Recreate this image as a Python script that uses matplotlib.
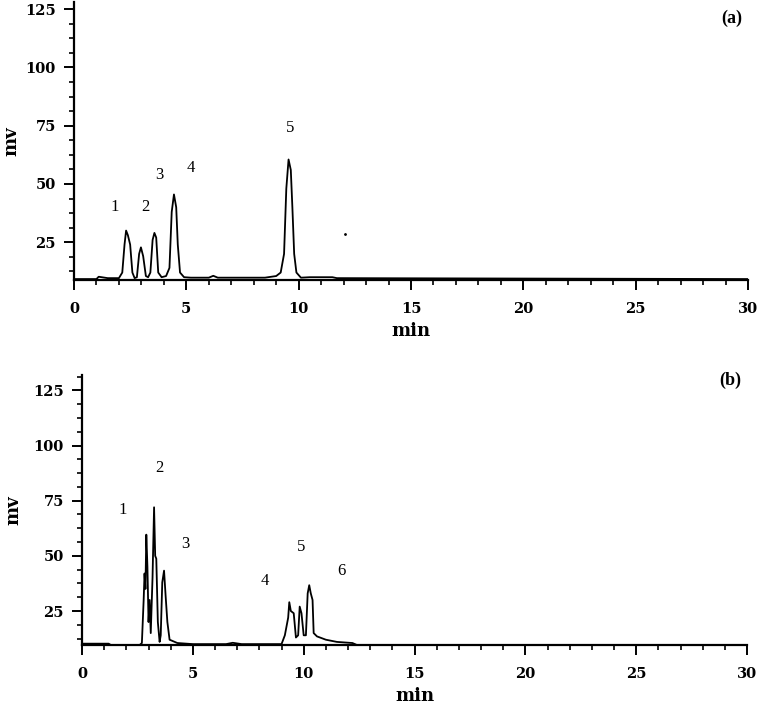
import matplotlib
matplotlib.use('Agg')
import matplotlib.pyplot as plt
from matplotlib.ticker import MultipleLocator

# chromatogram (a): retention time (min) and signal (mV)
time_a = [0, 1.0, 1.1, 1.3, 1.5, 2.0, 2.15, 2.25, 2.32, 2.4, 2.5, 2.6, 2.7, 2.8, 2.9, 2.98,
          3.08, 3.2, 3.3, 3.4, 3.5, 3.58, 3.66, 3.75, 3.9, 4.1, 4.25, 4.35, 4.45, 4.55, 4.62,
          4.72, 4.9, 5.2, 6.0, 6.2, 6.4, 8.5, 9.0, 9.2, 9.35, 9.45, 9.55, 9.65, 9.72, 9.8,
          9.9, 10.1, 10.5, 11.5, 11.7, 30]
mv_a = [9.2, 9.2, 10.2, 9.9, 9.6, 9.6, 12, 24, 30, 28, 24, 12, 9.6, 10, 20, 22.8,
        19, 10.5, 10, 12, 26, 29, 27, 12, 10, 10.5, 14, 38, 45.5, 40, 24,
        12, 10, 9.8, 9.8, 10.6, 9.8, 9.8, 10.5, 12, 20, 48, 60.5, 56, 40, 20,
        12, 9.8, 10, 10, 9.6, 9.2]
stray_a = (12.05, 28.5)
labels_a = ['1', '2', '3', '4', '5']
label_pos_a = [(1.8, 40), (3.2, 40), (3.8, 54), (5.2, 57), (9.6, 74)]

# chromatogram (b)
time_b = [0, 1.2, 1.3, 2.6, 2.7, 2.78, 2.82, 2.86, 2.9, 2.95, 3.0, 3.05, 3.1, 3.18, 3.25,
          3.3, 3.35, 3.42, 3.5, 3.55, 3.62, 3.7, 3.77, 3.85, 3.95, 4.3, 5.0, 6.5, 6.8, 7.2,
          9.0, 9.15, 9.3, 9.35, 9.42, 9.55, 9.65, 9.75, 9.82, 9.9, 10.0, 10.1, 10.18, 10.25,
          10.32, 10.4, 10.45, 10.6, 11.0, 11.5, 12.2, 12.4, 30]
mv_b = [10.2, 10.2, 9.6, 9.6, 10.5, 30, 42, 35, 59.6, 45, 20, 30, 15, 40, 72,
        50, 48.7, 20, 11, 14, 38, 43.3, 32, 20, 12, 10.5, 10, 10, 10.6, 10,
        10, 14, 22, 29, 25, 24, 13, 14, 27, 24, 14, 14, 33, 36.7,
        33, 30, 15, 13.5, 12, 11, 10.5, 9.6, 9.6]
labels_b = ['1', '2', '3', '4', '5', '6']
label_pos_b = [(1.85, 71), (3.5, 90), (4.65, 55.5), (8.25, 38.5), (9.9, 54), (11.7, 43)]

y_ticks = [25, 50, 75, 100, 125]
x_ticks = [0, 5, 10, 15, 20, 25, 30]

tick_font = {'family': 'DejaVu Serif', 'weight': 'bold', 'size': 10.5}

fig = plt.figure(figsize=(7.61, 7.06), dpi=100)
ax_a = fig.add_axes([0.0972, 0.6034, 0.8858, 0.3936])
ax_b = fig.add_axes([0.1078, 0.0864, 0.8738, 0.3826])


def style(ax, ylim, tag, tag_y, ylab_x):
    ax.set_xlim(0, 30)
    ax.set_ylim(*ylim)
    for s in ['top', 'right']:
        ax.spines[s].set_visible(False)
    for s in ['left', 'bottom']:
        ax.spines[s].set_linewidth(1.6)
    ax.set_xticks(x_ticks)
    ax.set_yticks(y_ticks)
    ax.xaxis.set_minor_locator(MultipleLocator(1))
    ax.yaxis.set_minor_locator(MultipleLocator(6.25))
    ax.tick_params(axis='both', which='major', direction='out', width=1.4, length=7, pad=6)
    ax.tick_params(axis='x', which='major', pad=9)
    ax.tick_params(axis='both', which='minor', direction='out', width=1.2, length=3.5)
    for lab in ax.get_xticklabels() + ax.get_yticklabels():
        lab.set_fontproperties(tick_font)
    ax.set_xlabel('min', fontfamily='DejaVu Serif', fontweight='bold', fontsize=13, labelpad=4)
    ax.set_ylabel('mv', fontfamily='DejaVu Serif', fontweight='bold', fontsize=13, va='center')
    ax.yaxis.set_label_coords(ylab_x, 0.5)
    ax.text(0.991, tag_y, tag, transform=ax.transAxes, ha='right', va='center',
            fontfamily='Liberation Serif', fontweight='bold', fontsize=13)


ax_a.plot(time_a, mv_a, color='black', lw=1.3)
ax_a.plot(*stray_a, 'k.', ms=2)
for lab, (x, y) in zip(labels_a, label_pos_a):
    ax_a.text(x, y, lab, ha='center', va='center', fontfamily='Liberation Serif', fontsize=12)
style(ax_a, (8.8, 128), '(a)', 0.942, -0.093)

ax_b.plot(time_b, mv_b, color='black', lw=1.3)
for lab, (x, y) in zip(labels_b, label_pos_b):
    ax_b.text(x, y, lab, ha='center', va='center', fontfamily='Liberation Serif', fontsize=12)
style(ax_b, (9.6, 132), '(b)', 0.98, -0.104)

fig.savefig('out.png', dpi=100)
